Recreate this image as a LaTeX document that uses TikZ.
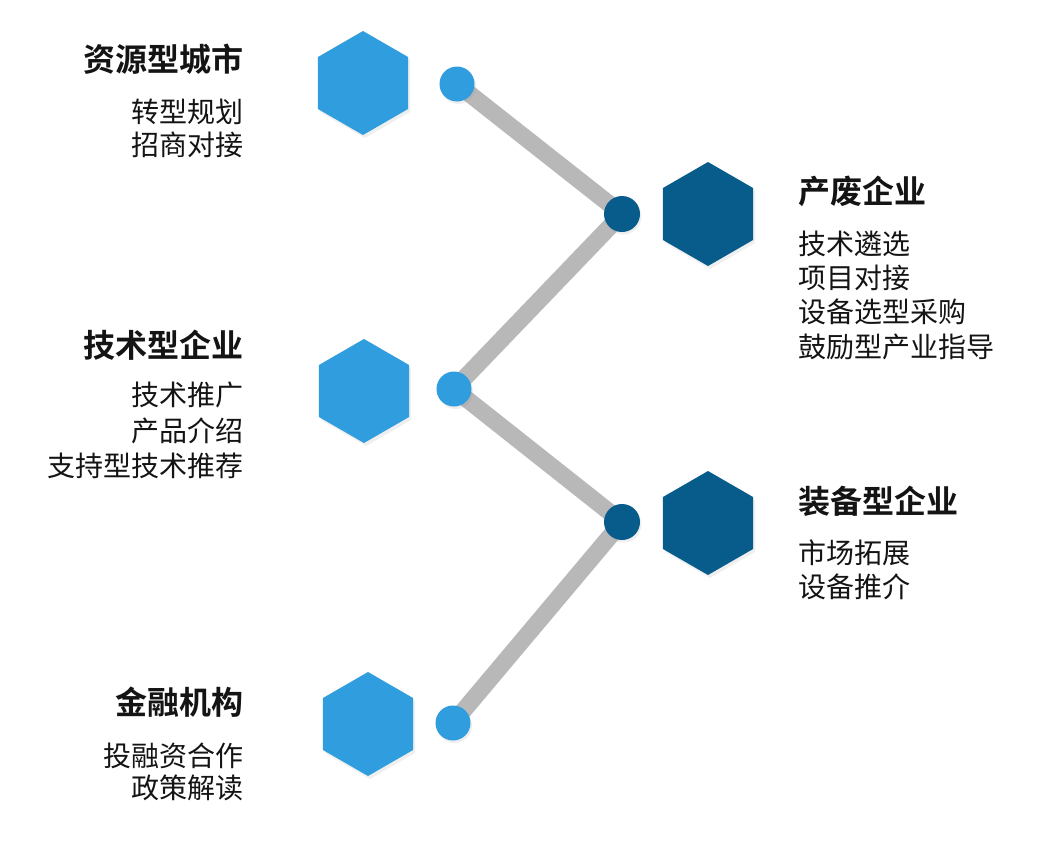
\documentclass[tikz,border=0pt]{standalone}
\usepackage{fontspec}
\newfontfamily\cjk{Noto Sans CJK SC}
\newfontfamily\cjkb{Noto Sans CJK SC Bold}
\usetikzlibrary{shapes.geometric,shadows,backgrounds}
\definecolor{lblue}{RGB}{47,157,222}
\definecolor{dblue}{RGB}{8,92,140}
\definecolor{lgray}{RGB}{184,184,184}
\definecolor{txt}{RGB}{20,20,20}
\tikzset{
  hexa/.style={regular polygon, regular polygon sides=6, shape border rotate=30,
    minimum size=104pt, inner sep=0pt, draw=none,
    drop shadow={opacity=0.12, shadow xshift=2pt, shadow yshift=-3pt}},
  lhex/.style={hexa, fill=lblue},
  dhex/.style={hexa, fill=dblue},
  dot/.style={circle, minimum size=35pt, inner sep=0pt, draw=none,
    drop shadow={opacity=0.12, shadow xshift=1.5pt, shadow yshift=-2.5pt}},
  ldot/.style={dot, fill=lblue},
  ddot/.style={dot, fill=dblue, minimum size=36pt},
  link/.style={line width=17pt, draw=lgray},
  ttl/.style={font=\cjkb\fontsize{32}{36}\selectfont, text=txt, inner sep=0pt},
  itm/.style={font=\cjk\fontsize{28}{32}\selectfont, text=txt, inner sep=0pt},
  ltxt/.style={anchor=east},
  rtxt/.style={anchor=west}
}
\begin{document}
\begin{tikzpicture}[x=1pt,y=-1pt]
\useasboundingbox (0,0) rectangle (1045,854);
% hexagons
\node[lhex] (h1) at (363,83) {};
\node[lhex] (h2) at (364,391) {};
\node[lhex] (h3) at (368,724) {};
\node[dhex] (h4) at (708,214) {};
\node[dhex] (h5) at (708,523) {};
% dots
\node[ldot] (c1) at (457,84) {};
\node[ldot] (c2) at (454,389) {};
\node[ldot] (c3) at (453,723) {};
\node[ddot] (d1) at (622,214) {};
\node[ddot] (d2) at (622,522) {};
\begin{scope}[on background layer]
\fill[white] (0,0) rectangle (1045,854);
\draw[link] (c1.center) -- (d1.center) -- (c2.center) -- (d2.center) -- (c3.center);
\end{scope}
% left texts
\node[ttl,ltxt] (t1) at (244,59) {资源型城市};
\node[itm,ltxt] (t1a) at (244,112) {转型规划};
\node[itm,ltxt] (t1b) at (244,145) {招商对接};
\node[ttl,ltxt] (t2) at (244,345) {技术型企业};
\node[itm,ltxt] (t2a) at (244,395) {技术推广};
\node[itm,ltxt] (t2b) at (244,431) {产品介绍};
\node[itm,ltxt] (t2c) at (244,466) {支持型技术推荐};
\node[ttl,ltxt] (t3) at (244,702) {金融机构};
\node[itm,ltxt] (t3a) at (244,756) {投融资合作};
\node[itm,ltxt] (t3b) at (244,788) {政策解读};
% right texts
\node[ttl,rtxt] (t4) at (798,191) {产废企业};
\node[itm,rtxt] (t4a) at (798,244) {技术遴选};
\node[itm,rtxt] (t4b) at (798,278) {项目对接};
\node[itm,rtxt] (t4c) at (798,312) {设备选型采购};
\node[itm,rtxt] (t4d) at (798,347) {鼓励型产业指导};
\node[ttl,rtxt] (t5) at (798,501) {装备型企业};
\node[itm,rtxt] (t5a) at (798,553) {市场拓展};
\node[itm,rtxt] (t5b) at (798,587) {设备推介};
\end{tikzpicture}
\end{document}
